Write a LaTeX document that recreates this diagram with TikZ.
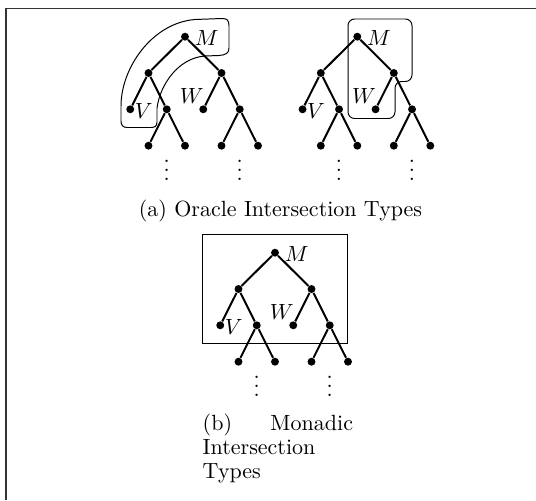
\documentclass[tikz,border=0pt]{standalone}
\usetikzlibrary{calc}
\tikzset{
  dot/.style={circle,fill=black,inner sep=0pt,minimum size=3.6pt},
  edge/.style={line width=0.9pt},
  outline/.style={line width=0.45pt},
  lab/.style={inner sep=0pt},
  vd/.style={inner sep=0pt,anchor=base},
  frameline/.style={line width=0.8pt,draw=black!80}
}
\newcommand\myvdots{\vbox{\baselineskip4pt\lineskiplimit0pt\hbox{.}\hbox{.}\hbox{.}}}
\newcommand\mktree[3]{%
  \node[dot] (r#1) at (#2,#3) {};
  \node[dot] (a#1) at (#2-36.5,#3+36.3) {};
  \node[dot] (b#1) at (#2+36.5,#3+36.3) {};
  \node[dot] (aa#1) at (#2-54.75,#3+72.6) {};
  \node[dot] (ab#1) at (#2-18.25,#3+72.6) {};
  \node[dot] (ba#1) at (#2+18.25,#3+72.6) {};
  \node[dot] (bb#1) at (#2+54.75,#3+72.6) {};
  \node[dot] (aba#1) at (#2-36.5,#3+109) {};
  \node[dot] (abb#1) at (#2,#3+109) {};
  \node[dot] (bba#1) at (#2+36.5,#3+109) {};
  \node[dot] (bbb#1) at (#2+73,#3+109) {};
  \draw[edge] (r#1) -- (a#1) (r#1) -- (b#1)
    (a#1) -- (aa#1) (a#1) -- (ab#1) (b#1) -- (ba#1) (b#1) -- (bb#1)
    (ab#1) -- (aba#1) (ab#1) -- (abb#1) (bb#1) -- (bba#1) (bb#1) -- (bbb#1);
  \node[lab] (m#1) at (#2+21.7,#3+1.6) {$M$};
  \node[lab] (v#1) at (#2-54.75+13.5,#3+72.6+1.4) {$V$};
  \node[lab] (w#1) at (#2+18.25-11.5,#3+72.6-13) {$W$};
  \node[vd] (da#1) at (#2-18.25,#3+143.5) {\myvdots};
  \node[vd] (db#1) at (#2+54.75,#3+143.5) {\myvdots};
}
\begin{document}
\begin{tikzpicture}[x=0.4545pt,y=-0.4545pt]
\useasboundingbox (0,0) rectangle (536,500);
\draw[frameline] (6,500) -- (6,8.5) -- (536,8.5);
\mktree{1}{185}{36.7}
\mktree{2}{357.3}{36.7}
\mktree{3}{275}{252.7}
% outline tree 1
\draw[outline] (195,19.5) -- (222,18.5) .. controls (227,18.5) and (229,20) .. (229,26)
  -- (229,48) .. controls (229,53) and (226,55) .. (219,55.5)
  -- (205,56) .. controls (178,58) and (160,85) .. (157,108)
  -- (157,122) .. controls (157,126) and (155,127.5) .. (151,127.5)
  -- (127,127.5) .. controls (123,127.5) and (121,125) .. (121,121)
  -- (121,106) .. controls (121,68) and (152,23) .. (195,19.5) -- cycle;
% outline tree 2
\draw[outline,rounded corners=3pt] (380,19) -- (412,19) -- (412,81.5) -- (395,81.5)
  -- (395,118.5) -- (348,118.5) -- (348,19) -- cycle;
% box tree 3
\draw[outline] (202.3,234.7) rectangle (347.3,343.3);
\node[anchor=base] (capa) at (280.5,216.5) {(a) Oracle Intersection Types};
\node[anchor=north west,inner sep=0pt,text width=68.3pt,align=left,
  font=\fontsize{10}{11}\selectfont] (capb) at (202.3,413.5)
  {(b)\hfill Monadic\\Intersection\\Types};
\end{tikzpicture}
\end{document}
